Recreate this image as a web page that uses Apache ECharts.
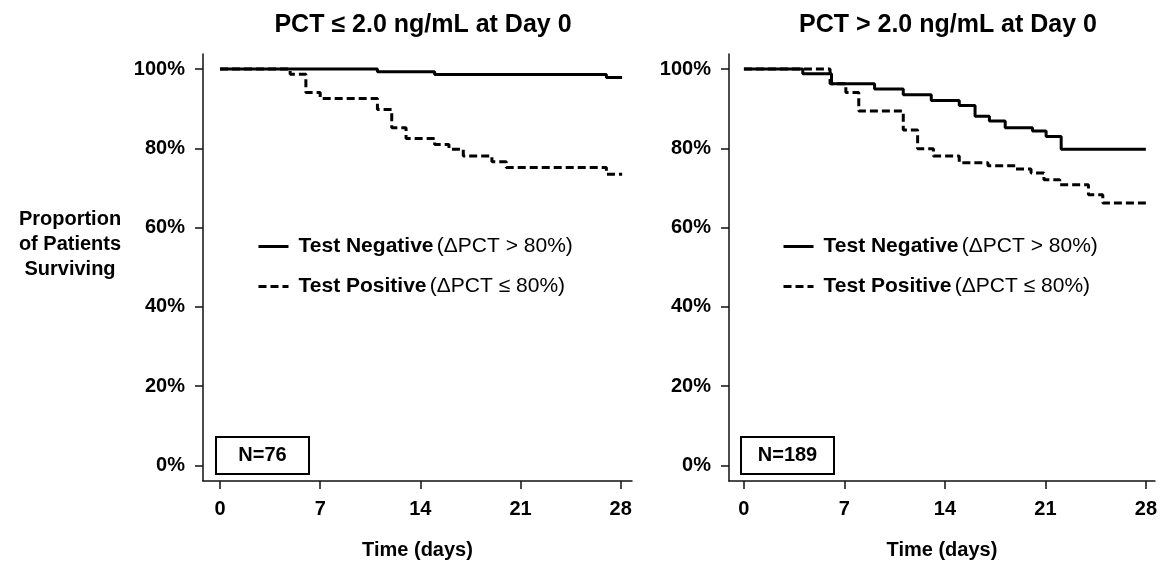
<!DOCTYPE html>
<html>
<head>
<meta charset="utf-8">
<script src="https://cdn.jsdelivr.net/npm/echarts@6/dist/echarts.min.js"></script>
<style>
html,body{margin:0;padding:0;background:#fff;}
#chart{width:1160px;height:565px;}
</style>
</head>
<body>
<div id="chart"></div>
<script>
// ---- data ----
const panelTitles = ['PCT \u2264 2.0 ng/mL at Day 0', 'PCT > 2.0 ng/mL at Day 0'];
const panelN = ['N=76', 'N=189'];
const seriesNames = ['Test Negative', 'Test Positive'];
const seriesSuffix = ['(\u0394PCT > 80%)', '(\u0394PCT \u2264 80%)'];
const xTicks = [0, 7, 14, 21, 28];
const yTicks = [0, 20, 40, 60, 80, 100];
const yAxisTitle = 'Proportion\nof Patients\nSurviving';
const xAxisTitle = 'Time (days)';

// Left panel (PCT <= 2.0)
const leftNegDays = [0, 11, 15, 27, 28.1];
const leftNegSurv = [100, 99.3, 98.6, 97.9, 97.9];
const leftPosDays = [0, 4.9, 6, 7, 11, 12, 13, 15, 16, 17, 19, 20, 27, 28.1];
const leftPosSurv = [100, 98.7, 94.1, 92.6, 89.8, 85.2, 82.5, 81.0, 79.8, 78.1, 76.6, 75.2, 73.5, 73.5];

// Right panel (PCT > 2.0)
const rightNegDays = [0, 4.1, 6.1, 9.1, 11.1, 13.05, 15.0, 16.1, 17.1, 18.2, 20.1, 21.05, 22.1, 28.0];
const rightNegSurv = [100, 98.8, 96.3, 95.0, 93.5, 92.1, 90.8, 88.1, 86.9, 85.2, 84.4, 83.0, 79.8, 79.8];
const rightPosDays = [0, 6.0, 7.1, 8.0, 11.1, 12.1, 13.2, 15.0, 17.0, 18.9, 20.0, 20.9, 22.0, 24.0, 25.0, 28.0];
const rightPosSurv = [100, 96.3, 94.1, 89.4, 84.6, 79.9, 78.1, 76.4, 75.6, 74.8, 73.8, 72.1, 70.8, 68.3, 66.2, 66.2];

// ---- chart ----
const FONT = 'Liberation Sans';
const pairs = (d, s) => d.map((v, i) => [v, s[i]]);
const chart = echarts.init(document.getElementById('chart'), null, {renderer: 'canvas'});

const grids = [
  {left: 203, top: 54, width: 429, height: 430},
  {left: 729, top: 54, width: 426, height: 430}
];
const xRanges = [[-1.19, 28.79], [-1.04, 28.63]];

function xAxisCfg(i) {
  return {
    type: 'value', gridIndex: i, min: xRanges[i][0], max: xRanges[i][1],
    axisLine: {show: true, onZero: false, lineStyle: {color: '#111', width: 1.5}},
    axisTick: {show: true, customValues: xTicks, length: 8, lineStyle: {color: '#111', width: 1.5}},
    axisLabel: {customValues: xTicks, margin: 18, color: '#000', fontFamily: FONT, fontWeight: 'bold', fontSize: 20},
    splitLine: {show: false},
    name: xAxisTitle, nameLocation: 'middle', nameGap: 59,
    nameTextStyle: {color: '#000', fontFamily: FONT, fontWeight: 'bold', fontSize: 20}
  };
}
function yAxisCfg(i) {
  return {
    type: 'value', gridIndex: i, min: -3.9, max: 103.8,
    axisLine: {show: true, onZero: false, lineStyle: {color: '#111', width: 1.5}},
    axisTick: {show: true, customValues: yTicks, length: 8, lineStyle: {color: '#111', width: 1.5}},
    axisLabel: {customValues: yTicks, margin: 18, formatter: '{value}%', color: '#000', fontFamily: FONT, fontWeight: 'bold', fontSize: 20},
    splitLine: {show: false}
  };
}
function lineSeries(name, idx, data, dashed) {
  return {
    name: name, type: 'line', xAxisIndex: idx, yAxisIndex: idx, z: dashed ? 2 : 3,
    data: data, step: 'end', symbol: 'none', showSymbol: false, animation: false,
    lineStyle: {color: '#000', width: 3, type: dashed ? [8, 4] : 'solid'},
    itemStyle: {color: '#000'}
  };
}
function legendCfg(left) {
  return {
    orient: 'vertical', left: left, top: 231, itemWidth: 30, itemHeight: 14, itemGap: 19,
    selectedMode: false, data: seriesNames,
    itemStyle: {opacity: 0, color: 'rgba(0,0,0,0)', borderColor: 'rgba(0,0,0,0)', borderWidth: 0},
    lineStyle: {width: 3, color: '#000', type: 'inherit'},
    formatter: name => '{b|' + name + '} {n|' + seriesSuffix[seriesNames.indexOf(name)] + '}',
    textStyle: {
      padding: [0, 0, 0, 5],
      rich: {
        b: {fontFamily: FONT, fontWeight: 'bold', fontSize: 21, color: '#000', lineHeight: 22},
        n: {fontFamily: FONT, fontWeight: 'normal', fontSize: 21, color: '#000', lineHeight: 22}
      }
    }
  };
}
function nBox(x, text) {
  return {
    type: 'group', left: x, top: 436,
    children: [
      {type: 'rect', shape: {x: 0, y: 0, width: 93, height: 37}, style: {fill: '#fff', stroke: '#000', lineWidth: 2}},
      {type: 'text', x: 46.5, y: 18.5, style: {text: text, align: 'center', verticalAlign: 'middle', fontFamily: FONT, fontWeight: 'bold', fontSize: 20, fill: '#000'}}
    ]
  };
}

const option = {
  animation: false,
  backgroundColor: '#fff',
  title: [
    {text: panelTitles[0], left: 418, top: 8, textAlign: 'center', textStyle: {fontFamily: FONT, fontWeight: 'bold', fontSize: 25, color: '#000'}},
    {text: panelTitles[1], left: 943, top: 8, textAlign: 'center', textStyle: {fontFamily: FONT, fontWeight: 'bold', fontSize: 25, color: '#000'}}
  ],
  grid: grids,
  xAxis: [xAxisCfg(0), xAxisCfg(1)],
  yAxis: [yAxisCfg(0), yAxisCfg(1)],
  legend: [legendCfg(252), legendCfg(777)],
  series: [
    lineSeries(seriesNames[1], 0, pairs(leftPosDays, leftPosSurv), true),
    lineSeries(seriesNames[0], 0, pairs(leftNegDays, leftNegSurv), false),
    lineSeries(seriesNames[1], 1, pairs(rightPosDays, rightPosSurv), true),
    lineSeries(seriesNames[0], 1, pairs(rightNegDays, rightNegSurv), false)
  ],
  graphic: [
    {type: 'text', x: 70, y: 207, style: {text: yAxisTitle, align: 'center', verticalAlign: 'top', fontFamily: FONT, fontWeight: 'bold', fontSize: 20, lineHeight: 25, fill: '#000'}},
    nBox(215, panelN[0]),
    nBox(740, panelN[1])
  ]
};
chart.setOption(option);
</script>
</body>
</html>
